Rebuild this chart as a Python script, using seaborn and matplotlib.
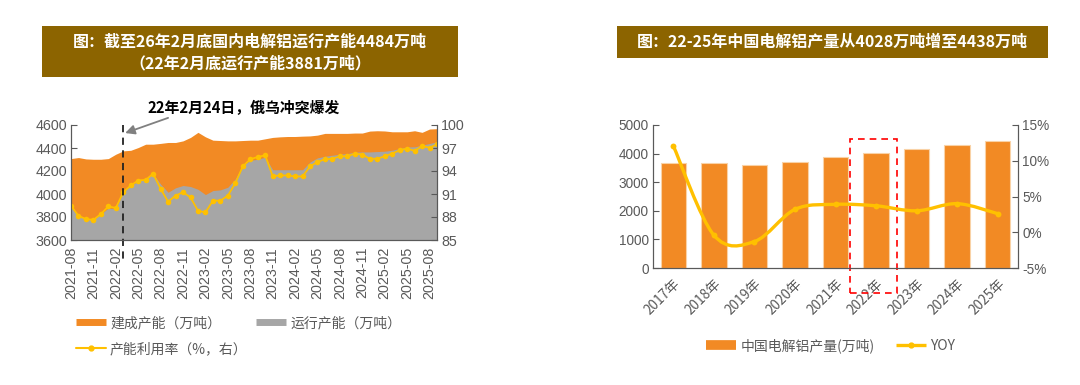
import numpy as np
import pandas as pd
import matplotlib
matplotlib.use('Agg')
import matplotlib.pyplot as plt
import matplotlib.transforms as mtransforms
import seaborn as sns
from matplotlib.lines import Line2D
from matplotlib.path import Path
from matplotlib.patches import PathPatch, Rectangle

sns.set_style('white')
plt.rcParams['font.family'] = ['Liberation Sans', 'Noto Sans CJK SC', 'DejaVu Sans']

ORANGE = '#F28A24'
GREY = '#A6A6A6'
YELLOW = '#FFC000'
BROWN = '#8C6400'
TXT = '#595959'
CJK = ['Noto Sans CJK SC', 'DejaVu Sans']

# ---- dados: capacidade mensal (万吨) e utilizacao (%)
months = list(pd.date_range('2021-08', periods=50, freq='MS').strftime('%Y-%m'))
built = [4308, 4317, 4305, 4302, 4302, 4308, 4346, 4375, 4380, 4404,
         4433, 4433, 4440, 4448, 4448, 4462, 4492, 4536, 4497, 4468,
         4465, 4462, 4462, 4465, 4468, 4468, 4480, 4492, 4497, 4500,
         4500, 4503, 4505, 4512, 4527, 4527, 4527, 4527, 4530, 4530,
         4547, 4550, 4548, 4541, 4541, 4541, 4550, 4536, 4565, 4568]
running = [3884, 3811, 3790, 3781, 3825, 3878, 3870, 4030, 4074, 4112,
           4132, 4176, 4085, 4015, 4054, 4074, 4065, 4041, 3995, 4030,
           4036, 4059, 4132, 4249, 4293, 4302, 4320, 4211, 4211, 4211,
           4211, 4211, 4278, 4314, 4328, 4337, 4346, 4352, 4363, 4366,
           4366, 4369, 4372, 4381, 4395, 4410, 4410, 4425, 4439, 4454]
util = [89.47, 88.16, 87.72, 87.63, 88.38, 89.39, 89.17, 91.23, 92.11, 92.76,
        92.85, 93.64, 91.67, 90.00, 90.79, 91.23, 90.57, 88.82, 88.60, 90.13,
        90.13, 90.79, 92.41, 94.60, 95.53, 95.83, 96.05, 93.33, 93.42, 93.42,
        93.29, 93.29, 94.60, 95.18, 95.53, 95.60, 95.92, 95.92, 96.27, 96.14,
        95.60, 95.60, 95.92, 96.27, 96.70, 96.93, 96.62, 97.24, 97.06, 97.46]

# ---- dados: producao anual
years = ['2017年', '2018年', '2019年', '2020年', '2021年',
         '2022年', '2023年', '2024年', '2025年']
output = [3658, 3658, 3600, 3716, 3869, 4028, 4150, 4315, 4438]
yoy = [12.1, -0.4, -1.3, 3.2, 3.9, 3.7, 3.0, 4.0, 2.6]

fig = plt.figure(figsize=(10.8, 3.85), dpi=100)

# titulos
fig.add_artist(Rectangle((42/1080, 1-77/385), 416/1080, 51/385,
                         transform=fig.transFigure, color=BROWN, lw=0))
fig.text(250/1080, 1-42/385, '图：截至26年2月底国内电解铝运行产能4484万吨',
         color='white', fontsize=11.5, fontweight='bold', family=CJK,
         ha='center', va='center')
fig.text(250/1080, 1-63/385, '（22年2月底运行产能3881万吨）',
         color='white', fontsize=11.5, fontweight='bold', family=CJK,
         ha='center', va='center')
fig.add_artist(Rectangle((617/1080, 1-58/385), 431/1080, 32/385,
                         transform=fig.transFigure, color=BROWN, lw=0))
fig.text(832/1080, 1-42/385, '图：22-25年中国电解铝产量从4028万吨增至4438万吨',
         color='white', fontsize=11.5, fontweight='bold', family=CJK,
         ha='center', va='center')

# ---- grafico da esquerda
ax1 = fig.add_axes([71/1080, 1-240/385, 366/1080, 115/385])
x = np.arange(len(months))
ax1.fill_between(x, 3600, built, color=ORANGE, lw=0)
ax1.fill_between(x, 3600, running, color=GREY, lw=0)
ax1.set_xlim(0, len(months)-1)
ax1.set_ylim(3600, 4600)
ax1.set_yticks(range(3600, 4601, 200))
ax1.set_xticks(x[::3])
ax1.set_xticklabels(months[::3], rotation=90)

ax1r = ax1.twinx()
sns.lineplot(x=x, y=util, ax=ax1r, color=YELLOW, lw=1.3, marker='o',
             markersize=4, markeredgewidth=0)
ax1r.set_ylim(85, 100)
ax1r.set_yticks([85, 88, 91, 94, 97, 100])
ax1r.set_ylabel('')

for a in (ax1, ax1r):
    a.tick_params(direction='in', length=4, colors=TXT, labelsize=10.3, pad=3)
    for s in a.spines.values():
        s.set_color(TXT)
    a.spines['top'].set_visible(False)
ax1.tick_params(axis='x', pad=5)

# linha tracejada e anotacao
ax1r.plot([6.9, 6.9], [1.0, -0.2], transform=mtransforms.blended_transform_factory(
    ax1r.transData, ax1r.transAxes), color='#222222', lw=1.3, ls=(0, (4, 3)),
    clip_on=False)
ax1.annotate('', xy=(7.25, 4530), xytext=(13, 4662), annotation_clip=False,
             arrowprops=dict(arrowstyle='-|>', color='#808080', lw=1.3,
                             mutation_scale=14, shrinkA=0, shrinkB=0))
ax1.text(10.3, 4750, '22年2月24日，俄乌冲突爆发', fontsize=10.7,
         fontweight='bold', family=CJK, ha='left', va='center', color='black')

h1 = [Line2D([], [], color=ORANGE, lw=5, solid_capstyle='butt'),
      Line2D([], [], color=YELLOW, lw=1.5, marker='o', markersize=3.5),
      Line2D([], [], color=GREY, lw=5, solid_capstyle='butt')]
fig.legend(h1, ['建成产能（万吨）', '产能利用率（%，右）', '运行产能（万吨）'],
           ncol=2, loc='upper left', bbox_to_anchor=(76/1080, 1-316/385),
           frameon=False, borderpad=0, borderaxespad=0, handlelength=2.15,
           handletextpad=0.3, columnspacing=0.6, labelspacing=0.85,
           prop={'family': CJK, 'size': 10}, labelcolor=TXT)

# ---- grafico da direita
ax2 = fig.add_axes([653/1080, 1-268/385, 365/1080, 143/385])
sns.barplot(x=years, y=output, ax=ax2, color=ORANGE, saturation=1,
            width=0.63, edgecolor='#F9D2A6', linewidth=0.8)
ax2.set_xlim(-0.5, len(years)-0.5)
ax2.set_ylim(0, 5000)
ax2.set_yticks(range(0, 5001, 1000))
ax2.set_xticks(np.arange(len(years)+1)-0.5, minor=True)
ax2.set_xticklabels(years, rotation=45, ha='right', rotation_mode='anchor',
                    family=CJK)
ax2.set_ylabel('')

ax2r = ax2.twinx()
ax2r.set_ylim(-5, 15)
ax2r.set_yticks([-5, 0, 5, 10, 15])
ax2r.set_yticklabels([f'{v}%' for v in [-5, 0, 5, 10, 15]])

# curva suavizada (bezier estilo Excel) passando pelos pontos YOY
px = np.arange(len(yoy), dtype=float)
py = np.array(yoy, dtype=float)
verts = [(px[0], py[0])]
codes = [Path.MOVETO]
n = len(px)
for i in range(n-1):
    p0 = np.array([px[max(i-1, 0)], py[max(i-1, 0)]])
    p1 = np.array([px[i], py[i]])
    p2 = np.array([px[i+1], py[i+1]])
    p3 = np.array([px[min(i+2, n-1)], py[min(i+2, n-1)]])
    c1 = p1 + (p2-p0)/6
    c2 = p2 - (p3-p1)/6
    verts += [tuple(c1), tuple(c2), tuple(p2)]
    codes += [Path.CURVE4]*3
ax2r.add_patch(PathPatch(Path(verts, codes), fill=False, edgecolor=YELLOW,
                         lw=2.4, capstyle='round'))
sns.scatterplot(x=px, y=py, ax=ax2r, color=YELLOW, s=18, linewidth=0, zorder=5)
ax2r.set_xlim(-0.5, len(years)-0.5)

for a in (ax2, ax2r):
    a.tick_params(direction='in', length=4, colors=TXT, labelsize=9.8, pad=3)
    for s in a.spines.values():
        s.set_color(TXT)
    a.spines['top'].set_visible(False)
ax2.tick_params(axis='x', which='major', length=0, pad=6)
ax2.tick_params(axis='x', which='minor', direction='in', length=4, color=TXT)

# retangulo vermelho em 2022
ax2.add_patch(Rectangle((4.36, -0.173), 1.16, 1.073,
                        transform=mtransforms.blended_transform_factory(
                            ax2.transData, ax2.transAxes),
                        fill=False, edgecolor='#FF0000', lw=1.2,
                        ls=(0, (4, 3)), clip_on=False, zorder=6))

h2 = [Line2D([], [], color=ORANGE, lw=7, solid_capstyle='butt'),
      Line2D([], [], color=YELLOW, lw=2.4, marker='o', markersize=3.5,
             solid_capstyle='butt')]
fig.legend(h2, ['中国电解铝产量(万吨)', 'YOY'], ncol=2, loc='upper left',
           bbox_to_anchor=(706/1080, 1-338/385), frameon=False, borderpad=0,
           borderaxespad=0, handlelength=2.15, handletextpad=0.35,
           columnspacing=1.5, prop={'family': CJK, 'size': 10},
           labelcolor=TXT)

fig.savefig('out.png', dpi=100)
